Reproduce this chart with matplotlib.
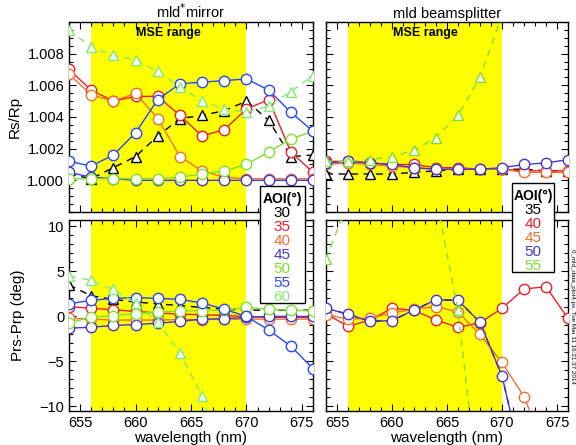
import numpy as np
import matplotlib
matplotlib.use("Agg")
import matplotlib.pyplot as plt
from matplotlib.patches import Rectangle
from matplotlib.ticker import MultipleLocator

plt.rcParams['font.family'] = ['Liberation Sans', 'DejaVu Sans']

# ====== Data ======
wavelength = [654, 656, 658, 660, 662, 664, 666, 668, 670, 672, 674, 676]
mse_range = (656, 670)

# mld* mirror, Rs/Rp
m_rr_30 = [1.0004, 1.0001, 1.0008, 1.0015, 1.0028, 1.0039, 1.0041, 1.0044, 1.0050, 1.0038, 1.0015, 1.0016]
m_rr_35 = [1.0070, 1.0057, 1.0050, 1.0053, 1.0053, 1.0041, 1.0028, 1.0032, 1.0045, 1.0051, 1.0018, 1.0005]
m_rr_40 = [1.0067, 1.0054, 1.0050, 1.0055, 1.0039, 1.0015, 1.0006, 1.0002, 1.0001, 1.0001, 1.0001, 1.0001]
m_rr_45 = [1.0005, 1.0002, 1.0001, 1.0000, 1.0000, 1.0000, 1.0000, 1.0000, 1.0000, 1.0000, 1.0000, 1.0000]
m_rr_50 = [1.0001, 1.0001, 1.0001, 1.0001, 1.0001, 1.0002, 1.0004, 1.0006, 1.0010, 1.0018, 1.0026, 1.0031]
m_rr_55 = [1.0012, 1.0009, 1.0016, 1.0030, 1.0051, 1.0061, 1.0062, 1.0063, 1.0064, 1.0057, 1.0043, 1.0031]
m_rr_60 = [1.0095, 1.0084, 1.0079, 1.0076, 1.0069, 1.0059, 1.0050, 1.0045, 1.0043, 1.0047, 1.0056, 1.0066]

# mld* mirror, Prs-Prp (deg)
m_pp_30 = [3.5, 2.3, 1.9, 1.6, 1.4, 1.2, 1.0, 0.8, 0.7, 0.7, 0.7, 0.7]
m_pp_35 = [1.1, 0.9, 0.75, 0.55, 0.4, 0.25, 0.2, 0.1, 0.0, -0.1, -0.1, -0.1]
m_pp_40 = [-0.2, -0.3, -0.4, -0.4, -0.4, -0.35, -0.35, -0.3, -0.3, -0.3, -0.3, -0.3]
m_pp_45 = [-1.3, -1.2, -1.0, -0.9, -0.75, -0.55, -0.3, -0.25, -0.1, 0.0, 0.0, 0.0]
m_pp_50 = [-0.7, -0.1, 0.1, 0.3, 0.5, 0.6, 0.65, 0.7, 1.0, 0.8, 0.7, 0.6]
m_pp_55 = [1.4, 1.8, 2.0, 2.1, 2.0, 1.9, 1.5, 0.8, 0.0, -1.5, -3.3, -5.8]
m_pp_60 = [4.5, 4.0, 3.0, 1.5, -0.6, -4.1, -8.8, -17.0, -25.0, -30.0, -30.0, -30.0]

# mld beamsplitter, Rs/Rp
b_rr_35 = [1.0004, 1.0004, 1.0004, 1.0004, 1.0005, 1.0006, 1.0007, 1.0007, 1.0007, 1.0007, 1.0006, 1.0006]
b_rr_40 = [1.0012, 1.0012, 1.0011, 1.0010, 1.0010, 1.0008, 1.0008, 1.0007, 1.0007, 1.0006, 1.0006, 1.0006]
b_rr_45 = [1.0010, 1.0011, 1.0010, 1.0009, 1.0008, 1.0007, 1.0007, 1.0007, 1.0007, 1.0005, 1.0005, 1.0005]
b_rr_50 = [1.0011, 1.0012, 1.0011, 1.0010, 1.0008, 1.0007, 1.0007, 1.0007, 1.0008, 1.0010, 1.0011, 1.0013]
b_rr_55 = [1.0012, 1.0012, 1.0013, 1.0015, 1.0019, 1.0027, 1.0041, 1.0065, 1.0104, 1.0160, 1.0240, 1.0340]

# mld beamsplitter, Prs-Prp (deg) -- 35 deg sits under the 50 deg curve
b_pp_35 = [0.9, 0.25, -0.55, -0.45, 0.7, 1.85, 1.8, -0.65, -6.6, -17.0, -25.0, -30.0]
b_pp_40 = [0.3, -1.1, -0.4, 0.9, 0.7, -0.4, -1.2, -0.7, 0.9, 3.05, 3.3, -0.2]
b_pp_45 = [0.2, -0.3, -0.2, 0.4, 0.8, 1.1, 0.5, -2.0, -5.1, -8.9, -15.0, -20.0]
b_pp_50 = [0.9, 0.25, -0.55, -0.45, 0.7, 1.85, 1.8, -0.65, -6.6, -17.0, -25.0, -30.0]
b_pp_55 = [6.4, 12.7, 18.0, 20.0, 18.0, 13.2, 0.7, -21.0, -35.0, -45.0, -50.0, -55.0]

mirror_aoi = ['30', '35', '40', '45', '50', '55', '60']
mirror_colors = ['black', '#e8202a', '#f07030', '#4438d0', '#80e030', '#2a48f0', '#80ec70']
mirror_dashed = [True, False, False, False, False, False, True]

bs_aoi = ['35', '40', '45', '50', '55']
bs_colors = ['black', '#e8202a', '#f07030', '#4438d0', '#80e030']
bs_dashed = [True, False, False, False, True]

yellow = '#ffff00'


def plot_series(ax, y, color, dashed, tri_size=7):
    if dashed:
        ax.plot(wavelength, y, color=color, ls=(0, (5, 4)), lw=1.0,
                marker='^', ms=tri_size, mfc='white', mec=color, mew=1.0, zorder=3)
    else:
        ax.plot(wavelength, y, color=color, lw=1.0,
                marker='o', ms=7.5, mfc='white', mec=color, mew=1.0, zorder=3)


def style_axes(ax):
    ax.axvspan(mse_range[0], mse_range[1], color=yellow, lw=0, zorder=0)
    ax.set_xlim(654, 676)
    ax.xaxis.set_major_locator(MultipleLocator(5))
    ax.xaxis.set_minor_locator(MultipleLocator(1))
    ax.tick_params(which='both', direction='in', top=True, right=True, labelsize=10.5)
    ax.tick_params(which='major', length=5, width=0.8)
    ax.tick_params(which='minor', length=3, width=0.8)
    for sp in ax.spines.values():
        sp.set_linewidth(1.0)


fig = plt.figure(figsize=(5.76, 4.45), dpi=100)

ax_tl = fig.add_axes([0.1198, 0.5236, 0.4236, 0.427])
ax_bl = fig.add_axes([0.1198, 0.0764, 0.4236, 0.429])
ax_tr = fig.add_axes([0.566, 0.5236, 0.420, 0.427])
ax_br = fig.add_axes([0.566, 0.0764, 0.420, 0.429])

mirror_rr = [m_rr_30, m_rr_35, m_rr_40, m_rr_45, m_rr_50, m_rr_55, m_rr_60]
mirror_pp = [m_pp_30, m_pp_35, m_pp_40, m_pp_45, m_pp_50, m_pp_55, m_pp_60]
bs_rr = [b_rr_35, b_rr_40, b_rr_45, b_rr_50, b_rr_55]
bs_pp = [b_pp_35, b_pp_40, b_pp_45, b_pp_50, b_pp_55]

for y, c, d in zip(mirror_rr, mirror_colors, mirror_dashed):
    plot_series(ax_tl, y, c, d)
for y, c, d in zip(mirror_pp, mirror_colors, mirror_dashed):
    plot_series(ax_bl, y, c, d)
for y, c, d in zip(bs_rr, bs_colors, bs_dashed):
    plot_series(ax_tr, y, c, d)
for i, (y, c, d) in enumerate(zip(bs_pp, bs_colors, bs_dashed)):
    plot_series(ax_br, y, c, d, tri_size=5 if i == 0 else 7)

for ax in [ax_tl, ax_bl, ax_tr, ax_br]:
    style_axes(ax)

# Rs/Rp panels
for ax in [ax_tl, ax_tr]:
    ax.set_ylim(0.998, 1.010)
    ax.set_yticks([1.000, 1.002, 1.004, 1.006, 1.008])
    ax.yaxis.set_minor_locator(MultipleLocator(0.0005))
    ax.tick_params(labelbottom=False)
    ax.text(0.5 * (mse_range[0] + mse_range[1]), 1.0093, 'MSE range',
            ha='center', va='center', fontsize=9, fontweight='bold', zorder=4)
ax_tl.yaxis.set_major_formatter(matplotlib.ticker.FormatStrFormatter('%.3f'))
ax_tr.tick_params(labelleft=False)
ax_tl.set_ylabel('Rs/Rp', fontsize=11, labelpad=4)

# Prs-Prp panels
for ax in [ax_bl, ax_br]:
    ax.set_ylim(-10.5, 10.7)
    ax.set_yticks([-10, -5, 0, 5, 10])
    ax.yaxis.set_minor_locator(MultipleLocator(1))
    ax.set_xlabel('wavelength (nm)', fontsize=11, labelpad=1)
ax_br.tick_params(labelleft=False)
ax_bl.set_ylabel('Prs-Prp (deg)', fontsize=11, labelpad=10)

ax_tl.set_title('mld$^{*}$mirror', fontsize=10.5, pad=3)
ax_tr.set_title('mld beamsplitter', fontsize=10.5, pad=3)

# AOI legend boxes, drawn on the figure across the panel gap
def aoi_box(left, bottom, width, height, labels, colors):
    fig.patches.append(Rectangle((left, bottom), width, height, transform=fig.transFigure,
                                 facecolor='white', edgecolor='black', lw=1.0, zorder=5))
    xc = left + width / 2
    step = 14.0 / 445
    ytop = bottom + height - 13.0 / 445
    fig.text(xc, ytop, 'AOI(°)', ha='center', va='center', fontsize=10,
             fontweight='bold', zorder=6)
    for i, (lab, c) in enumerate(zip(labels, colors)):
        fig.text(xc, ytop - (i + 1) * step, lab, ha='center', va='center',
                 fontsize=11, color=c, zorder=6)

aoi_box(0.451, 0.319, 0.078, 0.263, mirror_aoi, mirror_colors)
aoi_box(0.889, 0.389, 0.073, 0.200, bs_aoi, bs_colors)

fig.text(0.994, 0.29, '0_mld_data_plot4.ps, Tue Mar 11 16:21:37 2014', rotation=270,
         ha='center', va='center', fontsize=4.5)

plt.savefig('out.png', dpi=100)
